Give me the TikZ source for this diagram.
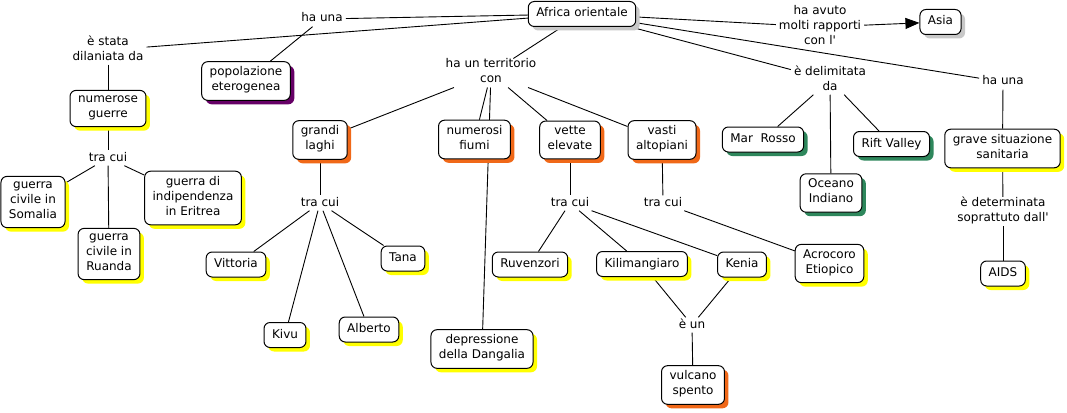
\documentclass[tikz,border=0pt]{standalone}
\usepackage{fontspec}
\setmainfont{DejaVu Sans}
\usetikzlibrary{shadows,backgrounds,arrows.meta}
\definecolor{cmyellow}{RGB}{255,255,0}
\definecolor{cmorange}{RGB}{240,104,24}
\definecolor{cmgreen}{RGB}{46,135,92}
\definecolor{cmpurple}{RGB}{102,0,102}
\definecolor{cmgray}{RGB}{200,200,200}
\begin{document}
\begin{tikzpicture}[x=1pt, y=-1pt,
	mynode/.style={draw=black, line width=1pt, rounded corners=6pt, fill=white, align=center,
		inner xsep=8pt, inner ysep=5pt, font=\fontsize{12}{15}\selectfont,
		execute at begin node=\strut, execute at end node=\strut,
		drop shadow={fill=#1, opacity=1, shadow xshift=4pt, shadow yshift=-4pt}},
	mynode/.default=cmyellow,
	mylink/.style={align=center, inner xsep=3pt, inner ysep=0pt, font=\fontsize{12}{15}\selectfont,
		execute at begin node=\strut, execute at end node=\strut},
	every edge/.style={draw, line width=0.9pt}]
	\useasboundingbox (0,0) rectangle (1067,412);

	% concetti
	\node[mynode=cmgray] (1) at (582,14) {Africa orientale};
	\node[mynode=cmgray] (2) at (940.5,22) {Asia};
	\node[mynode=cmpurple] (3) at (246,81) {popolazione\\eterogenea};
	\node[mynode] (4) at (108,108.5) {numerose\\guerre};
	\node[mynode] (5) at (33,202) {guerra\\civile in\\Somalia};
	\node[mynode] (6) at (109,254) {guerra\\civile in\\Ruanda};
	\node[mynode] (7) at (193,198) {guerra di\\indipendenza\\in Eritrea};
	\node[mynode=cmorange] (8) at (320,140) {grandi\\laghi};
	\node[mynode=cmorange] (9) at (474.5,139.5) {numerosi\\fiumi};
	\node[mynode=cmorange] (10) at (570,140) {vette\\elevate};
	\node[mynode=cmorange] (11) at (662,140) {vasti\\altopiani};
	\node[mynode] (12) at (236,264.5) {Vittoria};
	\node[mynode] (13) at (285,335) {Kivu};
	\node[mynode] (14) at (369,329.5) {Alberto};
	\node[mynode] (15) at (403,258.5) {Tana};
	\node[mynode] (16) at (482,349) {depressione\\della Dangalia};
	\node[mynode] (17) at (530,264.5) {Ruvenzori};
	\node[mynode] (18) at (642,264) {Kilimangiaro};
	\node[mynode] (19) at (742,264.5) {Kenia};
	\node[mynode] (20) at (829.5,263.5) {Acrocoro\\Etiopico};
	\node[mynode=cmorange] (21) at (693,385) {vulcano\\spento};
	\node[mynode=cmgreen] (22) at (763,139.5) {Mar\ \ Rosso};
	\node[mynode=cmgreen] (23) at (831,193) {Oceano\\Indiano};
	\node[mynode=cmgreen] (24) at (891.5,144) {Rift Valley};
	\node[mynode] (25) at (1002.5,148.5) {grave situazione\\sanitaria};
	\node[mynode] (26) at (1003,273.5) {AIDS};

	% frasi di collegamento
	\node[mylink] (27) at (322,19) {ha una};
	\node[mylink] (28) at (108,50) {è stata\\dilaniata da};
	\node[mylink] (29) at (108,158) {tra cui};
	\node[mylink] (30) at (491,73) {ha un territorio\\con};
	\node[mylink] (31) at (320,203) {tra cui};
	\node[mylink] (32) at (570,203) {tra cui};
	\node[mylink] (33) at (663,203) {tra cui};
	\node[mylink] (34) at (692,325) {è un};
	\node[mylink] (35) at (820,27) {ha avuto\\molti rapporti\\con l\textquotesingle};
	\node[mylink] (36) at (830,80) {è delimitata\\da};
	\node[mylink] (37) at (1003,82) {ha una};
	\node[mylink] (38) at (1003,211.5) {è determinata\\soprattuto dall\textquotesingle};

	\begin{pgfonlayer}{background}
		\fill[white] (0,0) rectangle (1067,412);
		\path
		(1) edge (27) (27) edge (3)
		(1) edge (28) (28) edge (4) (4) edge (29)
		(29) edge (5) (29) edge (6) (29) edge (7)
		(1) edge (30) (30) edge (8) (30) edge (9) (30) edge (16) (30) edge (10) (30) edge (11)
		(8) edge (31) (31) edge (12) (31) edge (13) (31) edge (14) (31) edge (15)
		(10) edge (32) (32) edge (17) (32) edge (18) (32) edge (19)
		(11) edge (33) (33) edge (20)
		(18) edge (34) (19) edge (34) (34) edge (21)
		(1) edge (35) (35) edge[-{Triangle[length=14pt,width=11pt]}] (2)
		(1) edge (36) (36) edge (22) (36) edge (23) (36) edge (24)
		(1) edge (37) (37) edge (25) (25) edge (38) (38) edge (26);
	\end{pgfonlayer}
\end{tikzpicture}
\end{document}
